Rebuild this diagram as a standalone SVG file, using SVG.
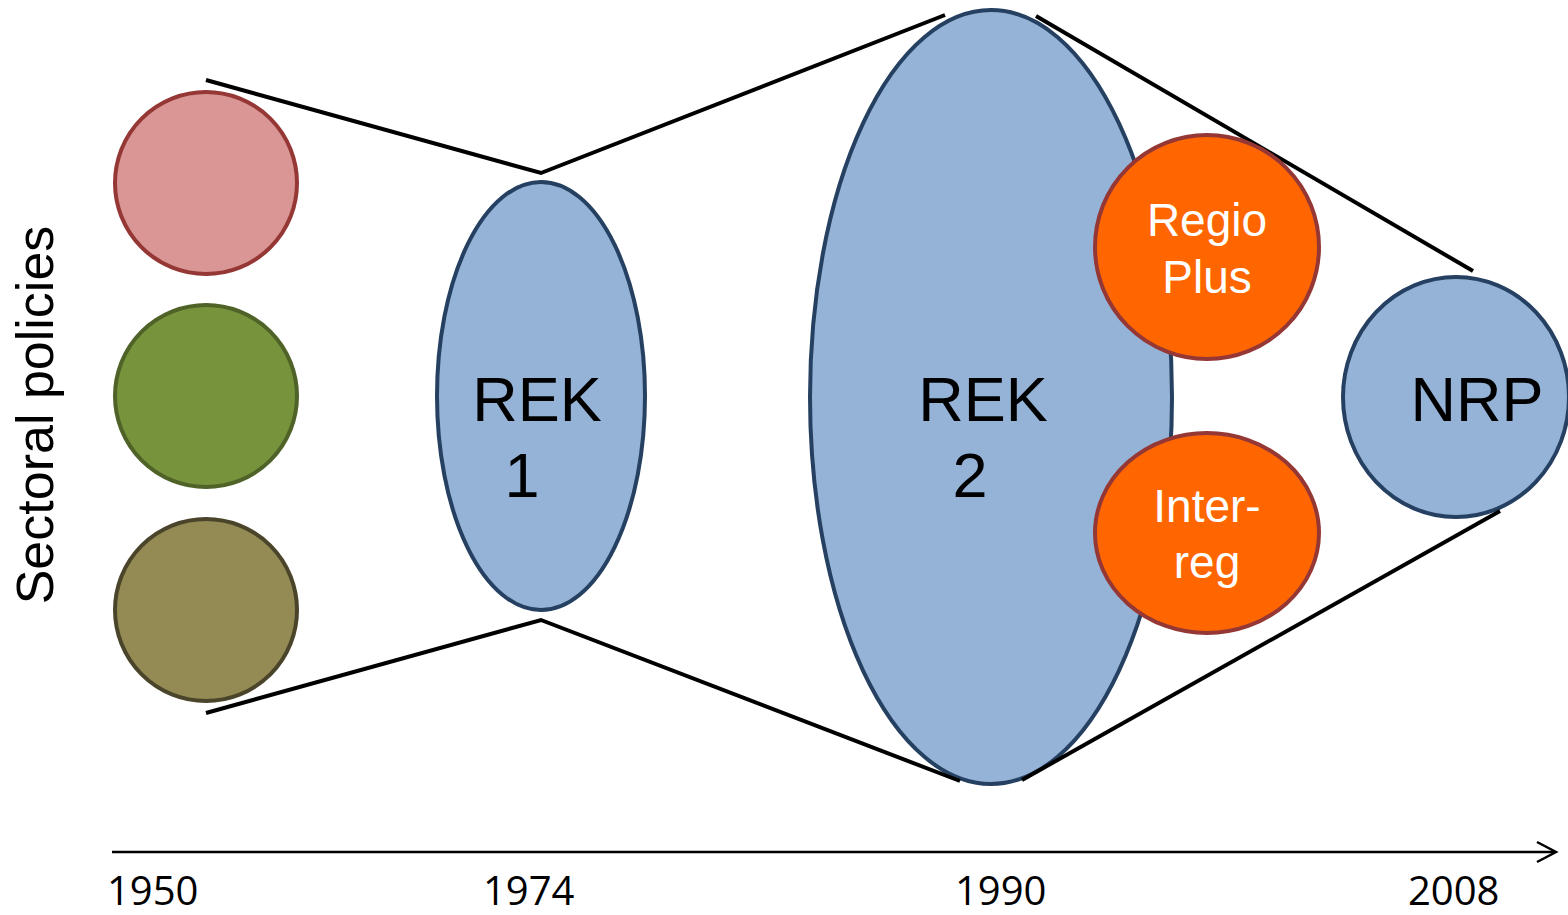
<svg xmlns="http://www.w3.org/2000/svg" width="1568" height="915" viewBox="0 0 1568 915">
<style>
.blue{fill:#95B3D7;stroke:#254061;stroke-width:4}
.orange{fill:#FF6600;stroke:#953735;stroke-width:4}
.conn{stroke:#000;stroke-width:4;fill:none}
.big{font-family:"Liberation Sans",Arial,sans-serif;font-size:63px;fill:#000;text-anchor:middle}
.wt{font-family:"Liberation Sans",Arial,sans-serif;font-size:46px;fill:#fff;text-anchor:middle}
.yr{font-family:"Open Sans","Liberation Sans",sans-serif;font-size:40px;fill:#000}
</style>
<rect width="1568" height="915" fill="#fff"/>
<g id="pink"><circle cx="206" cy="183" r="91" fill="#D99694" stroke="#953735" stroke-width="4"/></g>
<g id="green"><circle cx="206" cy="396" r="91" fill="#77933C" stroke="#4F6228" stroke-width="4"/></g>
<g id="olive"><circle cx="206" cy="610" r="91" fill="#948A54" stroke="#4A452A" stroke-width="4"/></g>
<g id="rek1"><ellipse class="blue" cx="541" cy="396" rx="104" ry="214"/>
<text class="big" x="537" y="421">REK</text><text class="big" x="522" y="497">1</text></g>
<g id="rek2"><ellipse class="blue" cx="991" cy="397" rx="181" ry="387"/>
<text class="big" x="983" y="421">REK</text><text class="big" x="970" y="497">2</text></g>
<g id="nrp"><ellipse class="blue" cx="1456" cy="397" rx="113" ry="120"/>
<text class="big" x="1477" y="421">NRP</text></g>
<g id="connectors">
<polyline class="conn" points="206,80 541,173 945,15"/>
<polyline class="conn" points="206,713 541,620 960,781"/>
<line class="conn" x1="1036" y1="16" x2="1473" y2="271"/>
<line class="conn" x1="1022" y1="780" x2="1500" y2="511"/>
</g>
<g id="regioplus"><circle class="orange" cx="1207" cy="247" r="112"/>
<text class="wt" x="1207" y="236">Regio</text><text class="wt" x="1207" y="293">Plus</text></g>
<g id="interreg"><ellipse class="orange" cx="1207" cy="533" rx="112" ry="100"/>
<text class="wt" x="1207" y="522">Inter-</text><text class="wt" x="1207" y="578">reg</text></g>
<g id="axis">
<line x1="112" y1="852" x2="1555" y2="852" stroke="#000" stroke-width="2.5"/>
<polyline points="1537,842 1556,852 1537,862" fill="none" stroke="#000" stroke-width="2.5"/>
<text class="yr" x="107" y="905">1950</text>
<text class="yr" x="483" y="905">1974</text>
<text class="yr" x="955" y="905">1990</text>
<text class="yr" x="1408" y="905">2008</text>
</g>
<g id="label"><text transform="translate(53,415) rotate(-90)" font-family="Liberation Sans,Arial,sans-serif" font-size="52" text-anchor="middle" fill="#000">Sectoral policies</text></g>
</svg>
